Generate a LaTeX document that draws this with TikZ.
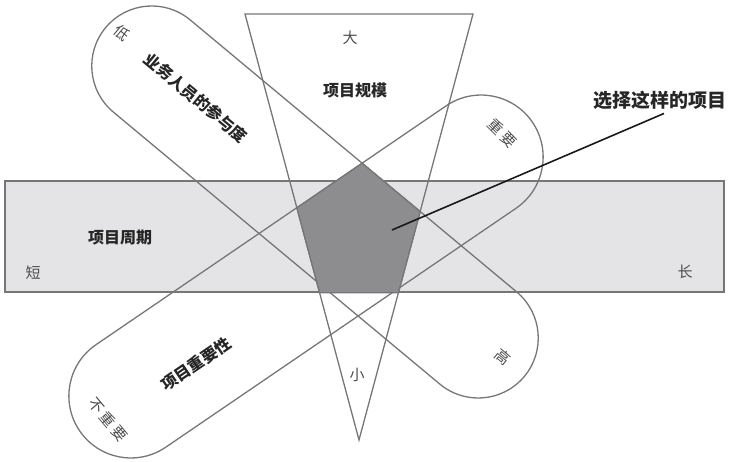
\documentclass[tikz,border=0pt]{standalone}
\usepackage{fontspec}
\newfontfamily\cjk{Noto Sans CJK SC}
\usetikzlibrary{shapes.misc}
\definecolor{edge}{HTML}{767676}
\definecolor{band}{HTML}{E4E4E6}
\definecolor{core}{HTML}{8D8D8F}

\begin{document}
\begin{tikzpicture}[x=1pt, y=-1pt,
  outline/.style={draw=edge, line width=1.3pt},
  pill/.style={rounded rectangle, outline, inner sep=0pt, minimum height=120pt, minimum width=545pt},
  title/.style={font=\cjk\bfseries\fontsize{16}{16}\selectfont, text=black!85},
  tick/.style={font=\cjk\fontsize{15}{15}\selectfont, text=black!70}]
  \useasboundingbox (0,0) rectangle (731,462);
  \node[outline, fill=band, inner sep=0pt, minimum width=719pt, minimum height=111pt] (span) at (364.5,236.5) {};
  \coordinate (tl) at (245,14);
  \coordinate (tr) at (473,14);
  \coordinate (tb) at (359,440);
  \draw[outline, line join=miter] (tl) -- (tr) -- (tb) -- cycle;
  \node[pill, rotate=-39.8] (user) at (315,202) {};
  \node[pill, minimum height=124pt, minimum width=548pt, rotate=34.3] (weight) at (306,276.5) {};
  \coordinate (u1) at (190.5,20);
  \coordinate (u2) at (516.5,292);
  \coordinate (w1) at (96,345);
  \coordinate (w2) at (446,106);
  \filldraw[fill=core, outline, line join=miter]
    (intersection of u1--u2 and w1--w2) -- (intersection of u1--u2 and tr--tb)
    -- (intersection of tr--tb and span.south west--span.south east)
    -- (intersection of tl--tb and span.south west--span.south east)
    -- (intersection of tl--tb and w1--w2) -- cycle;
  \node[tick] (big) at (350,38) {大};
  \node[title] (scale) at (355,90) {项目规模};
  \node[tick] (small) at (357,375) {小};
  \node[title, rotate=-39.8] (userlbl) at (196,98) {业务人员的参与度};
  \node[tick, rotate=-40] (low) at (122,33) {低};
  \node[tick, rotate=-40] (high) at (503,357) {高};
  \node[title] (period) at (120,238) {项目周期};
  \node[tick] (short) at (33,273) {短};
  \node[tick] (long) at (685,272) {长};
  \node[title, rotate=34.3] (weightlbl) at (196,364) {项目重要性};
  \node[tick, rotate=-45] (vital) at (502,133) {重 要};
  \node[tick, rotate=-50] (minor) at (108,420) {不 重 要};
  \coordinate (aim) at (392,230);
  \node[title, font=\cjk\bfseries\fontsize{19}{19}\selectfont, inner sep=4pt] (pick) at (660,100) {选择这样的项目};
  \draw[line width=1.6pt, black!90] (aim) -- ([xshift=4pt]pick.south);
\end{tikzpicture}
\end{document}
